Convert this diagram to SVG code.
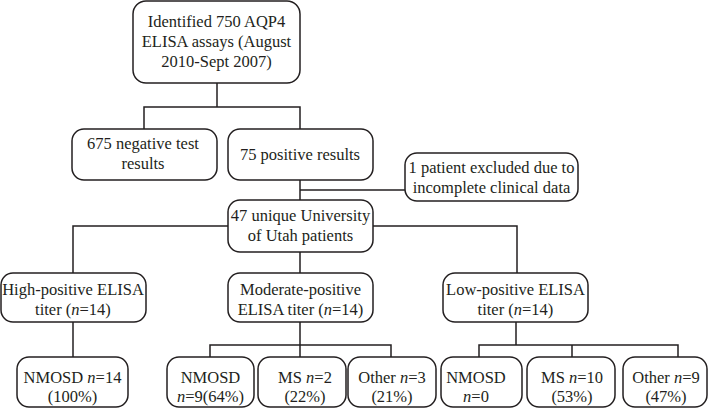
<svg xmlns="http://www.w3.org/2000/svg" width="710" height="408" viewBox="0 0 710 408">
<style>
.b{fill:#fff;stroke:#231f20;stroke-width:1.5}
.c{fill:none;stroke:#231f20;stroke-width:1.5}
.t{font-family:'Liberation Serif','DejaVu Serif',serif;font-size:16.5px;fill:#231f20;text-anchor:middle}
.i{font-style:italic}
</style>
<rect width="710" height="408" fill="#fff"/>
<g id="connectors" class="c">
<path d="M217 83V107M144 129V107H300V129"/>
<path d="M300 180V200M300 190H405"/>
<path d="M228 226H73V273M373 226H517V273M300 252V273"/>
<path d="M73 322V357"/>
<path d="M300 322V357M210 357V345H391V357"/>
<path d="M516 322V345M479 357V345H678V357M572 345V357"/>
</g>
<g id="n_identified" class="t"><rect class="b" x="133" y="1" width="167" height="82" rx="13"/>
<text x="216.5" y="27">Identified 750 AQP4</text><text x="216.5" y="47">ELISA assays (August</text><text x="216.5" y="67">2010-Sept 2007)</text></g>
<g id="n_negative" class="t"><rect class="b" x="72" y="129" width="145" height="51" rx="12"/>
<text x="143" y="149">675 negative test</text><text x="143" y="169">results</text></g>
<g id="n_positive" class="t"><rect class="b" x="228" y="129" width="145" height="51" rx="12"/>
<text x="300" y="160">75 positive results</text></g>
<g id="n_excluded" class="t"><rect class="b" x="405" y="153" width="173" height="48" rx="12"/>
<text x="491.5" y="173">1 patient excluded due to</text><text x="491.5" y="193">incomplete clinical data</text></g>
<g id="n_unique" class="t"><rect class="b" x="228" y="200" width="145" height="52" rx="12"/>
<text x="300.5" y="221">47 unique University</text><text x="300.5" y="241">of Utah patients</text></g>
<g id="n_high" class="t"><rect class="b" x="1" y="273" width="145" height="49" rx="12"/>
<text x="73" y="295">High-positive ELISA</text><text x="73" y="315">titer (<tspan class="i">n</tspan>=14)</text></g>
<g id="n_moderate" class="t"><rect class="b" x="228" y="273" width="145" height="49" rx="12"/>
<text x="300.5" y="295">Moderate-positive</text><text x="300.5" y="315">ELISA titer (<tspan class="i">n</tspan>=14)</text></g>
<g id="n_low" class="t"><rect class="b" x="443" y="273" width="145" height="49" rx="12"/>
<text x="515.5" y="295">Low-positive ELISA</text><text x="515.5" y="315">titer (<tspan class="i">n</tspan>=14)</text></g>
<g id="n_high_nmosd" class="t"><rect class="b" x="17" y="357" width="111" height="50" rx="12"/>
<text x="72.5" y="383">NMOSD <tspan class="i">n</tspan>=14</text><text x="72.5" y="402">(100%)</text></g>
<g id="n_mod_nmosd" class="t"><rect class="b" x="167" y="357" width="87" height="50" rx="12"/>
<text x="210.5" y="383">NMOSD</text><text x="210.5" y="402"><tspan class="i">n</tspan>=9(64%)</text></g>
<g id="n_mod_ms" class="t"><rect class="b" x="258" y="357" width="88" height="50" rx="12"/>
<text x="305" y="383">MS <tspan class="i">n</tspan>=2</text><text x="305" y="402">(22%)</text></g>
<g id="n_mod_other" class="t"><rect class="b" x="348" y="357" width="88" height="50" rx="12"/>
<text x="392" y="383">Other <tspan class="i">n</tspan>=3</text><text x="392" y="402">(21%)</text></g>
<g id="n_low_nmosd" class="t"><rect class="b" x="441" y="357" width="81" height="50" rx="12"/>
<text x="476" y="383">NMOSD</text><text x="476" y="402"><tspan class="i">n</tspan>=0</text></g>
<g id="n_low_ms" class="t"><rect class="b" x="527" y="357" width="88" height="50" rx="12"/>
<text x="572" y="383">MS <tspan class="i">n</tspan>=10</text><text x="572" y="402">(53%)</text></g>
<g id="n_low_other" class="t"><rect class="b" x="623" y="357" width="84" height="50" rx="12"/>
<text x="666" y="383">Other <tspan class="i">n</tspan>=9</text><text x="666" y="402">(47%)</text></g>
</svg>
